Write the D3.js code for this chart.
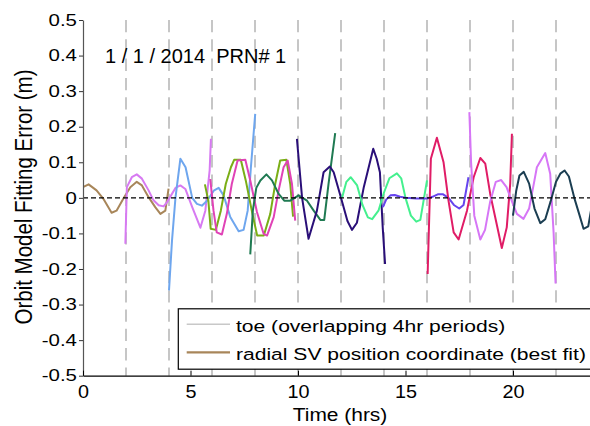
<!DOCTYPE html>
<html>
<head>
<meta charset="utf-8">
<script src="https://cdn.jsdelivr.net/npm/d3@7"></script>
<style>
  html, body { margin: 0; padding: 0; background: #fff; }
  svg { display: block; font-family: "Liberation Sans", Arial, sans-serif; }
</style>
</head>
<body>
<svg id="chart" width="590" height="426"></svg>
<script>
// ---------------- data ----------------
const yTickValues = [0.5, 0.4, 0.3, 0.2, 0.1, 0, -0.1, -0.2, -0.3, -0.4, -0.5];
const yTickLabels = ["0.5", "0.4", "0.3", "0.2", "0.1", "0", "-0.1", "-0.2", "-0.3", "-0.4", "-0.5"];
const xTickValues = [0, 5, 10, 15, 20];
const xTickLabels = ["0", "5", "10", "15", "20"];
const toeTimes = [2, 4, 6, 8, 10, 12, 14, 16, 18, 20, 22];

const titleText = "1 / 1 / 2014  PRN# 1";
const xLabel = "Time (hrs)";
const yLabel = "Orbit Model Fitting Error (m)";
const legendLabels = ["toe (overlapping 4hr periods)", "radial SV position coordinate (best fit)"];

// fit segments: time (hrs) and error (m)
const brownT = [0, 0.26, 0.63, 0.94, 1.33, 1.56, 1.88, 2.2, 2.5, 2.74, 3.05, 3.36, 3.6, 3.83, 3.98];
const brownV = [0.030, 0.038, 0.021, -0.002, -0.042, -0.036, -0.002, 0.030, 0.045, 0.035, 0.002, -0.026, -0.045, -0.036, 0.026];

const violetAT = [1.97, 2.04, 2.27, 2.5, 2.74, 3.05, 3.28, 3.52, 3.75, 3.91, 4.3, 4.53, 4.76, 5.08, 5.46, 5.69, 5.89, 5.95];
const violetAV = [-0.129, 0.030, 0.058, 0.066, 0.054, 0.021, -0.007, -0.021, -0.024, -0.012, 0.028, 0.035, 0.025, -0.026, -0.084, -0.036, 0.077, 0.166];

const blueT = [4.0, 4.14, 4.3, 4.53, 4.77, 5.08, 5.3, 5.53, 5.77, 6.08, 6.31, 6.54, 6.85, 7.24, 7.47, 7.66, 7.81, 8.01];
const blueV = [-0.26, -0.12, 0.0, 0.11, 0.086, 0.0, -0.017, -0.022, -0.008, 0.020, 0.028, 0.007, -0.054, -0.094, -0.090, -0.036, 0.086, 0.236];

const limeT = [5.67, 5.83, 5.94, 6.18, 6.41, 6.64, 6.88, 7.03, 7.34, 7.57, 7.88, 8.1, 8.41, 8.71, 8.94, 9.17, 9.46, 9.64, 9.77];
const limeV = [0.038, -0.008, -0.087, -0.090, -0.036, 0.039, 0.086, 0.107, 0.107, 0.049, -0.045, -0.106, -0.106, -0.045, 0.039, 0.105, 0.107, 0.039, -0.053];

const pinkT = [5.92, 6.07, 6.22, 6.46, 6.69, 6.92, 7.19, 7.55, 7.78, 8.09, 8.4, 8.56, 8.87, 9.1, 9.33, 9.52, 9.72, 9.87];
const pinkV = [0.053, -0.036, -0.097, -0.103, -0.045, 0.039, 0.105, 0.107, 0.049, -0.040, -0.101, -0.106, -0.054, 0.021, 0.086, 0.105, 0.039, -0.064];

const greenT = [7.78, 7.9, 8.06, 8.25, 8.53, 8.79, 9.1, 9.36, 9.64, 10.03, 10.42, 10.73, 11.04, 11.22, 11.42, 11.73];
const greenV = [-0.159, -0.036, 0.028, 0.049, 0.066, 0.049, 0.011, -0.008, -0.008, 0.007, -0.008, -0.036, -0.062, -0.062, 0.039, 0.182];

const indigoT = [9.95, 10.19, 10.49, 10.88, 11.19, 11.48, 11.66, 12.0, 12.3, 12.51, 12.74, 13.06, 13.5, 13.66, 13.81, 13.94, 14.05];
const indigoV = [0.166, 0.0, -0.115, -0.036, 0.072, 0.088, 0.072, 0.0, -0.065, -0.090, -0.070, 0.030, 0.138, 0.110, 0.072, -0.083, -0.186];

const mintT = [12.05, 12.25, 12.45, 12.75, 13.0, 13.25, 13.45, 13.75, 14.0, 14.25, 14.6, 14.8, 15.0, 15.25, 15.5, 15.69, 16.0];
const mintV = [0.0, 0.045, 0.058, 0.035, -0.020, -0.055, -0.060, -0.035, 0.015, 0.055, 0.069, 0.055, 0.0, -0.050, -0.067, -0.062, 0.049];

const slateT = [13.95, 14.1, 14.3, 14.5, 14.75, 15.0, 15.5, 16.0, 16.25, 16.5, 16.75, 17.0, 17.25, 17.5, 17.7, 17.93];
const slateV = [-0.026, -0.005, 0.007, 0.008, 0.003, 0.0, -0.002, -0.002, 0.003, 0.010, 0.010, 0.0, -0.020, -0.030, -0.020, 0.058];

const crimsonT = [16.03, 16.18, 16.46, 16.77, 17.0, 17.24, 17.47, 17.86, 18.17, 18.48, 18.71, 18.94, 19.17, 19.48, 19.71, 19.87, 19.95];
const crimsonV = [-0.214, 0.110, 0.169, 0.100, -0.008, -0.097, -0.117, -0.036, 0.058, 0.112, 0.096, 0.011, -0.054, -0.141, -0.083, 0.040, 0.180];

const violetBT = [17.97, 18.05, 18.2, 18.48, 18.7, 18.94, 19.2, 19.45, 19.7, 19.95, 20.18, 20.49, 20.75, 21.0, 21.11, 21.5, 21.73, 21.89, 21.98];
const violetBV = [0.241, 0.100, -0.050, -0.117, -0.090, -0.010, 0.045, 0.050, 0.030, -0.010, -0.045, -0.059, -0.030, 0.050, 0.086, 0.126, 0.068, -0.100, -0.241];

const darkT = [20.0, 20.15, 20.3, 20.5, 20.75, 21.0, 21.27, 21.5, 21.75, 22.0, 22.2, 22.4, 22.6, 22.85, 23.1, 23.28, 23.5, 23.7];
const darkV = [-0.050, 0.020, 0.063, 0.073, 0.040, -0.030, -0.071, -0.060, -0.010, 0.045, 0.068, 0.077, 0.060, 0.0, -0.050, -0.087, -0.080, -0.010];

// ---------------- layout / styles ----------------
const W = 590, H = 426;
const plot = { left: 83, top: 20, bottom: 375.7 };
const svg = d3.select("#chart");

const x = d3.scaleLinear().domain([0, 24]).range([plot.left, plot.left + 24 * 21.5]);
const y = d3.scaleLinear().domain([-0.5, 0.5]).range([plot.bottom, plot.top]);

const segments = [
  { t: brownT, v: brownV, color: "#a8865a" },
  { t: violetAT, v: violetAV, color: "#d77af2" },
  { t: blueT, v: blueV, color: "#6ea6ee" },
  { t: limeT, v: limeV, color: "#7aae16" },
  { t: pinkT, v: pinkV, color: "#e043b6" },
  { t: greenT, v: greenV, color: "#1f7a52" },
  { t: indigoT, v: indigoV, color: "#2a0f78" },
  { t: mintT, v: mintV, color: "#44f08e" },
  { t: slateT, v: slateV, color: "#6644ee" },
  { t: crimsonT, v: crimsonV, color: "#e01c66" },
  { t: violetBT, v: violetBV, color: "#d676f6" },
  { t: darkT, v: darkV, color: "#1b3e52" }
];

// clip
svg.append("defs").append("clipPath").attr("id", "clip")
  .append("rect").attr("x", plot.left).attr("y", 0).attr("width", W - plot.left).attr("height", plot.bottom);

// toe dashed verticals
svg.append("g").selectAll("line").data(toeTimes).join("line")
  .attr("x1", d => x(d)).attr("x2", d => x(d))
  .attr("y1", y(0.5)).attr("y2", y(-0.5))
  .attr("stroke", "#bdbdbd").attr("stroke-width", 1.7)
  .attr("stroke-dasharray", "12.3,7");

// data lines
const line = d3.line().x(d => x(d[0])).y(d => y(d[1]));
svg.append("g").attr("clip-path", "url(#clip)")
  .selectAll("path").data(segments).join("path")
  .attr("d", s => line(s.t.map((tt, i) => [tt, s.v[i]])))
  .attr("fill", "none").attr("stroke", s => s.color)
  .attr("stroke-width", 2).attr("stroke-linejoin", "round");

// zero dashed line
svg.append("line")
  .attr("x1", plot.left).attr("x2", W)
  .attr("y1", y(0)).attr("y2", y(0))
  .attr("stroke", "#000").attr("stroke-width", 1.4)
  .attr("stroke-dasharray", "5,3");

// axes
const yAxis = d3.axisLeft(y).tickValues(yTickValues)
  .tickFormat((d, i) => yTickLabels[i]).tickSizeInner(4).tickSizeOuter(0).tickPadding(2);
const gy = svg.append("g").attr("transform", `translate(${plot.left},0)`).call(yAxis);
gy.select(".domain").attr("stroke", "#555").attr("stroke-width", 1.2);
gy.selectAll(".tick line").attr("stroke", "#333");
gy.selectAll(".tick text")
  .attr("font-size", 16.5).attr("fill", "#000").attr("font-family", "Liberation Sans, Arial, sans-serif")
  .attr("transform", function () { const tx = +this.getAttribute("x"); return `translate(${tx},0) scale(1.24,1)`; })
  .attr("x", 0);

const xAxis = d3.axisBottom(x).tickValues(xTickValues)
  .tickFormat((d, i) => xTickLabels[i]).tickSizeInner(-5).tickSizeOuter(0).tickPadding(9.5);
const gx = svg.append("g").attr("transform", `translate(0,${plot.bottom})`).call(xAxis);
gx.select(".domain").attr("stroke", "#000").attr("stroke-width", 1.2);
gx.selectAll(".tick line").attr("stroke", "#000");
gx.selectAll(".tick text")
  .attr("font-size", 18).attr("fill", "#000").attr("font-family", "Liberation Sans, Arial, sans-serif")
  .attr("transform", "scale(1.1,1)");

// title
svg.append("text").attr("x", 105).attr("y", 62.7)
  .attr("font-size", 20).attr("fill", "#000").style("white-space", "pre")
  .text(titleText);

// x label
svg.append("text")
  .attr("transform", "translate(340,421) scale(1.19,1)")
  .attr("text-anchor", "middle").attr("font-size", 17.6).attr("fill", "#000")
  .text(xLabel);

// y label
svg.append("text")
  .attr("transform", "translate(32,197) rotate(-90) scale(1,1.16)")
  .attr("text-anchor", "middle").attr("font-size", 20.5).attr("fill", "#000")
  .text(yLabel);

// legend
const lg = svg.append("g");
lg.append("rect").attr("x", 178.3).attr("y", 308.8).attr("width", 430).attr("height", 60.4)
  .attr("fill", "#fff").attr("stroke", "#000").attr("stroke-width", 1.2);
const legendColors = ["#c8c8c8", "#a8865a"];
const legendWidths = [1.5, 2.2];
const rowY = [324.3, 352.3];
legendLabels.forEach((lab, i) => {
  lg.append("line").attr("x1", 186.7).attr("x2", 230).attr("y1", rowY[i]).attr("y2", rowY[i])
    .attr("stroke", legendColors[i]).attr("stroke-width", legendWidths[i]);
  lg.append("text").attr("transform", `translate(236,${rowY[i] + 7.5}) scale(1.24,1)`)
    .attr("font-size", 17).attr("fill", "#000").text(lab);
});
</script>
</body>
</html>
